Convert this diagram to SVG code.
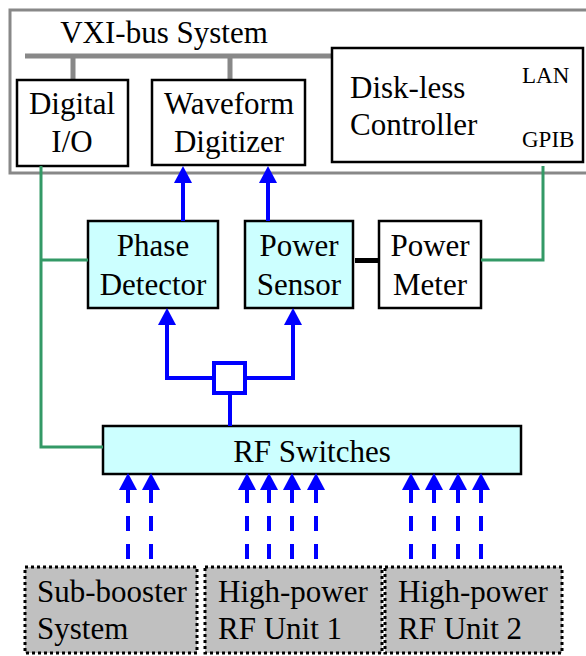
<svg xmlns="http://www.w3.org/2000/svg" width="586" height="656" viewBox="0 0 586 656">
<style>
text{font-family:"Liberation Serif","Times New Roman",serif;font-size:31px;fill:#000}
.c{text-anchor:middle}
.sm{font-size:23px}
.box{fill:#fff;stroke:#000;stroke-width:2.5}
.cy{fill:#ccffff;stroke:#000;stroke-width:2.5}
.dot{fill:#c0c0c0;stroke:#000;stroke-width:3;stroke-dasharray:3 3}
.gray{stroke:#888;fill:none}
.grn{stroke:#339966;stroke-width:3;fill:none}
.blu{stroke:#0000ff;stroke-width:4;fill:none}
.dash{stroke:#0000ff;stroke-width:4;fill:none;stroke-dasharray:15 13}
</style>
<defs>
<marker id="ah" markerUnits="userSpaceOnUse" viewBox="0 0 17 18" refX="0" refY="9" markerWidth="17" markerHeight="18" orient="auto">
<path d="M0,0 L17,9 L0,18 z" fill="#0000ff"/>
</marker>
</defs>
<g id="vxi-bus-system">
<rect x="10" y="10" width="600" height="163" class="gray" stroke-width="3"/>
<text x="164" y="43" class="c">VXI-bus System</text>
<path d="M25,56 H332" class="gray" stroke-width="5"/>
<path d="M73,56 V80 M230,56 V80" class="gray" stroke-width="5"/>
</g>
<g id="digital-io">
<rect x="17" y="80" width="111" height="86" class="box"/>
<text x="72" y="114" class="c">Digital</text>
<text x="72" y="152" class="c">I/O</text>
</g>
<g id="waveform-digitizer">
<rect x="152" y="80" width="153" height="85" class="box"/>
<text x="229" y="114" class="c">Waveform</text>
<text x="229" y="152" class="c">Digitizer</text>
</g>
<g id="diskless-controller">
<rect x="332" y="48" width="251" height="114" class="box"/>
<text x="350" y="98">Disk-less</text>
<text x="350" y="135">Controller</text>
<text x="522" y="83" class="sm">LAN</text>
<text x="522" y="147" class="sm">GPIB</text>
</g>
<g id="phase-detector">
<rect x="88" y="221" width="130" height="87" class="cy"/>
<text x="153" y="256" class="c">Phase</text>
<text x="153" y="295" class="c">Detector</text>
</g>
<g id="power-sensor">
<rect x="245" y="221" width="108" height="87" class="cy"/>
<text x="299" y="256" class="c">Power</text>
<text x="299" y="295" class="c">Sensor</text>
</g>
<g id="power-meter">
<rect x="379" y="221" width="102" height="87" class="box"/>
<text x="430" y="256" class="c">Power</text>
<text x="430" y="295" class="c">Meter</text>
</g>
<g id="splitter">
<rect x="214" y="363" width="31" height="30" fill="#fff" stroke="#0000ff" stroke-width="4"/>
</g>
<g id="rf-switches">
<rect x="103" y="426" width="418" height="48" class="cy"/>
<text x="312" y="462" class="c">RF Switches</text>
</g>
<g id="sub-booster">
<rect x="25" y="567" width="172" height="86" class="dot"/>
<text x="37" y="602">Sub-booster</text>
<text x="37" y="639">System</text>
</g>
<g id="rf-unit-1">
<rect x="205" y="567" width="177" height="86" class="dot"/>
<text x="218" y="602">High-power</text>
<text x="218" y="639">RF Unit 1</text>
</g>
<g id="rf-unit-2">
<rect x="385" y="567" width="177" height="86" class="dot"/>
<text x="398" y="602">High-power</text>
<text x="398" y="639">RF Unit 2</text>
</g>
<g id="connectors">
<path d="M41,166 V447 H103 M41,260 H88" class="grn"/>
<path d="M543,166 V260 H481" class="grn"/>
<path d="M355,260.5 H379" stroke="#000" stroke-width="5"/>
<path d="M183,221 V183" class="blu" marker-end="url(#ah)"/>
<path d="M268,221 V183" class="blu" marker-end="url(#ah)"/>
<path d="M214,378 H167 V325" class="blu" marker-end="url(#ah)"/>
<path d="M245,378 H293 V325" class="blu" marker-end="url(#ah)"/>
<path d="M230,393 V426" class="blu"/>
<path d="M128,559 V490 M151,559 V490 M247,559 V490 M269,559 V490 M292,559 V490 M316,559 V490 M411,559 V490 M434,559 V490 M458,559 V490 M481,559 V490" class="dash"/>
<path d="M128,491 V490" class="blu" marker-end="url(#ah)"/>
<path d="M151,491 V490" class="blu" marker-end="url(#ah)"/>
<path d="M247,491 V490" class="blu" marker-end="url(#ah)"/>
<path d="M269,491 V490" class="blu" marker-end="url(#ah)"/>
<path d="M292,491 V490" class="blu" marker-end="url(#ah)"/>
<path d="M316,491 V490" class="blu" marker-end="url(#ah)"/>
<path d="M411,491 V490" class="blu" marker-end="url(#ah)"/>
<path d="M434,491 V490" class="blu" marker-end="url(#ah)"/>
<path d="M458,491 V490" class="blu" marker-end="url(#ah)"/>
<path d="M481,491 V490" class="blu" marker-end="url(#ah)"/>
</g>
</svg>
